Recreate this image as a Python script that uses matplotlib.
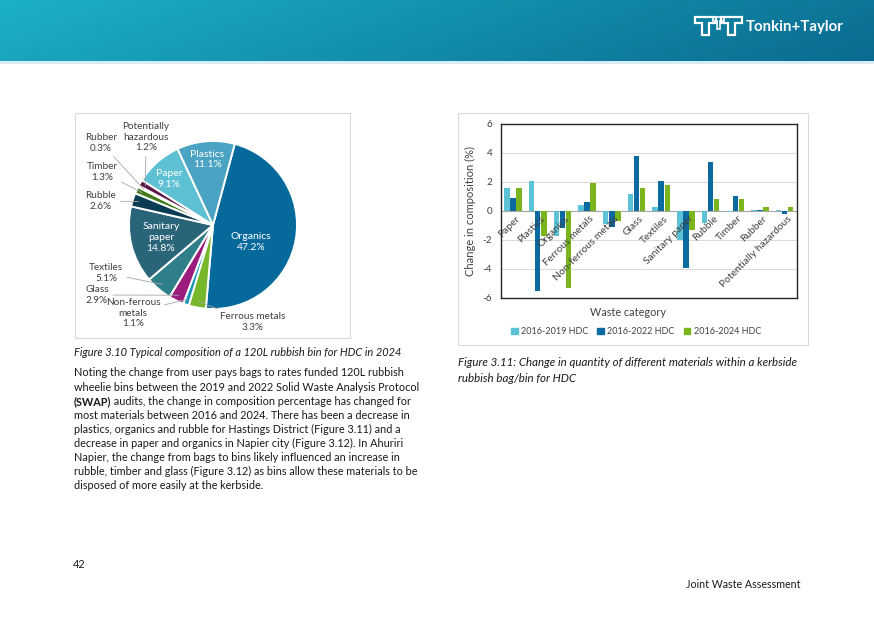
import matplotlib.pyplot as plt
import numpy as np
from matplotlib.patches import Rectangle, Polygon

plt.rcParams['font.family'] = ['Lato', 'DejaVu Sans']
plt.rcParams['axes.unicode_minus'] = False

W, H = 874, 618


def fx(x):
    return x / W


def fy(y):
    return 1 - y / H


# pie data (clockwise from Organics)
pie_labels = ["Organics", "Ferrous metals", "Non-ferrous\nmetals", "Glass", "Textiles",
              "Sanitary\npaper", "Rubble", "Timber", "Rubber", "Potentially\nhazardous",
              "Paper", "Plastics"]
pie_values = [47.2, 3.3, 1.1, 2.9, 5.1, 14.8, 2.6, 1.3, 0.3, 1.2, 9.1, 11.1]
pie_colors = ["#05699b", "#76b82a", "#1996b6", "#9c1c7d", "#2e7f89", "#2a6478",
              "#0a3c53", "#437b1a", "#b5b5b5", "#5b1747", "#5dc1d3", "#4aa3c3"]

# bar data
categories = ["Paper", "Plastics", "Organics", "Ferrous metals", "Non-ferrous metals",
              "Glass", "Textiles", "Sanitary paper", "Rubble", "Timber", "Rubber",
              "Potentially hazardous"]
chg_2019 = [1.6, 2.1, -1.7, 0.4, -0.9, 1.2, 0.3, -2.0, -0.8, -0.1, 0.1, 0.1]
chg_2022 = [0.9, -5.5, -1.2, 0.6, -1.1, 3.8, 2.1, -3.9, 3.4, 1.0, 0.1, -0.2]
chg_2024 = [1.6, -1.7, -5.3, 1.9, -0.7, 1.6, 1.8, -1.3, 0.8, 0.8, 0.3, 0.3]
series_names = ["2016-2019 HDC", "2016-2022 HDC", "2016-2024 HDC"]
series_colors = ["#5bc3d5", "#0b6a9f", "#7ab51d"]

body_lines = [
    "Noting the change from user pays bags to rates funded 120L rubbish",
    "wheelie bins between the 2019 and 2022 Solid Waste Analysis Protocol",
    None,
    "most materials between 2016 and 2024. There has been a decrease in",
    "plastics, organics and rubble for Hastings District (Figure 3.11) and a",
    "decrease in paper and organics in Napier city (Figure 3.12). In Ahuriri",
    "Napier, the change from bags to bins likely influenced an increase in",
    "rubble, timber and glass (Figure 3.12) as bins allow these materials to be",
    "disposed of more easily at the kerbside.",
]

fig = plt.figure(figsize=(8.74, 6.18), dpi=100)

# page layer in pixel coordinates
page = fig.add_axes([0, 0, 1, 1])
page.axis("off")

# header gradient
c1 = np.array([0x1b, 0xb1, 0xc6]) / 255
c2 = np.array([0x0a, 0x6b, 0x91]) / 255
gx = np.linspace(0, 1, 300)
gy = np.linspace(0, 1, 20)
t = np.clip(0.85 * gx[None, :] + 0.15 * gy[:, None], 0, 1)
grad = c1 + (c2 - c1) * t[..., None]
page.imshow(grad, extent=(0, W, 61, 0), aspect="auto")
page.add_patch(Rectangle((0, 61), W, 3, color="#d6edf3", lw=0))
page.set_xlim(0, W)
page.set_ylim(H, 0)

# logo
def t_shape(x0, w, h, bar, stem):
    cx = x0 + w / 2
    return [(x0, 17), (x0 + w, 17), (x0 + w, 17 + bar), (cx + stem / 2, 17 + bar),
            (cx + stem / 2, 17 + h), (cx - stem / 2, 17 + h), (cx - stem / 2, 17 + bar),
            (x0, 17 + bar)]


for x0 in (695, 721):
    page.add_patch(Polygon(t_shape(x0, 21, 18, 6, 7), closed=True, fill=False,
                           edgecolor="white", lw=1.6))
page.add_patch(Polygon(t_shape(713, 11, 12, 4, 3), closed=True, fill=False,
                       edgecolor="white", lw=1.2))
page.text(746, 27, "Tonkin+Taylor", color="white", fontsize=10.8, fontweight="bold",
          va="center", ha="left")

# chart boxes
page.add_patch(Rectangle((75, 113), 275, 225, fill=False, edgecolor="#d9d9d9", lw=0.8))
page.add_patch(Rectangle((458, 113), 350, 232, fill=False, edgecolor="#d9d9d9", lw=0.8))

# captions and text
txt = "#1a1a1a"
page.text(74, 352, "Figure 3.10 Typical composition of a 120L rubbish bin for HDC in 2024",
          fontsize=7.9, style="italic", color=txt, va="center")
page.text(458, 363, "Figure 3.11: Change in quantity of different materials within a kerbside",
          fontsize=8.3, style="italic", color=txt, va="center")
page.text(458, 378, "rubbish bag/bin for HDC", fontsize=8.3, style="italic", color=txt,
          va="center")

fs = 7.8
for i, line in enumerate(body_lines):
    y = 373 + i * 14.1
    if line is None:
        b = page.text(74, y, "(SWAP)", fontsize=fs, fontweight="bold", color=txt,
                      va="center")
        page.annotate(" audits, the change in composition percentage has changed for",
                      xy=(1, 0.5), xycoords=b, va="center", ha="left", fontsize=fs,
                      color=txt)
    else:
        page.text(74, y, line, fontsize=fs, color=txt, va="center")

page.text(73, 565, "42", fontsize=7.8, color=txt, va="center")
page.text(801, 585, "Joint Waste Assessment", fontsize=7.7, color=txt, va="center",
          ha="right")

# pie
cx, cy, r = 213, 225, 84
axp = fig.add_axes([fx(cx - r), fy(cy + r), 2 * r / W, 2 * r / H])
start = 75
wedges, _ = axp.pie(pie_values, colors=pie_colors, startangle=start, counterclock=False,
                    wedgeprops=dict(edgecolor="white", linewidth=1.4))
axp.set_xlim(-1, 1)
axp.set_ylim(-1, 1)
axp.set_aspect("auto")

inside = {"Organics": (0.45, -0.2), "Sanitary\npaper": (-0.62, -0.15),
          "Paper": (-0.52, 0.55), "Plastics": (-0.07, 0.78)}
outside = {"Ferrous metals": (253, 322), "Non-ferrous\nmetals": (133, 313),
           "Glass": (97, 295), "Textiles": (106, 273), "Rubble": (101, 201),
           "Timber": (102, 172), "Rubber": (101, 143),
           "Potentially\nhazardous": (146, 137)}

cum = 0
for lab, v in zip(pie_labels, pie_values):
    mid = np.deg2rad(start - 360 * (cum + v / 2) / 100)
    cum += v
    s = f"{lab}\n{v:.1f}%"
    if lab in inside:
        px, py = inside[lab]
        axp.text(px, py, s, color="white", fontsize=7.5, ha="center", va="center",
                 linespacing=1.25)
    else:
        tx, ty = outside[lab]
        axp.annotate(s, xy=(0.93 * np.cos(mid), 0.93 * np.sin(mid)),
                     xytext=(fx(tx), fy(ty)), textcoords="figure fraction",
                     fontsize=7.2, color="#404040", ha="center", va="center",
                     linespacing=1.25, annotation_clip=False,
                     arrowprops=dict(arrowstyle="-", color="#a6a6a6", lw=0.6,
                                     shrinkA=1, shrinkB=0))

# bars
axb = fig.add_axes([fx(500.7), fy(298), (797 - 500.7) / W, 174 / H])
x = np.arange(len(categories))
w = 0.22
for k, (vals, name, col) in enumerate(zip([chg_2019, chg_2022, chg_2024], series_names,
                                          series_colors)):
    axb.bar(x + (k - 1) * 0.245, vals, w, color=col, label=name, zorder=3)
axb.set_xlim(-0.5, len(categories) - 0.5)
axb.set_ylim(-6, 6)
axb.set_yticks(np.arange(-6, 7, 2))
axb.tick_params(axis="y", length=0, labelsize=7.2, colors="#404040", pad=6)
axb.set_xticks([])
axb.grid(axis="y", color="#d9d9d9", lw=0.7, zorder=0)
axb.axhline(0, color="#a6a6a6", lw=0.8, zorder=2)
for sp in axb.spines.values():
    sp.set_color("#262626")
    sp.set_linewidth(1.0)
for i, c in enumerate(categories):
    axb.text(i + 0.1, -0.2, c, rotation=45, rotation_mode="anchor", ha="right",
             va="top", fontsize=7.4, color="#404040", zorder=4)
axb.set_ylabel("Change in composition (%)", fontsize=8, color="#404040", labelpad=5)
page.text(628, 313, "Waste category", fontsize=7.8, color="#404040", ha="center",
          va="center")

handles = [Rectangle((0, 0), 1, 1, color=c) for c in series_colors]
fig.legend(handles, series_names, loc="center", bbox_to_anchor=(fx(636), fy(332)),
           ncol=3, fontsize=6.5, frameon=False, handlelength=0.7, handleheight=0.7,
           columnspacing=1.0, handletextpad=0.4, labelcolor="#404040")

fig.savefig("out.png", dpi=100)
